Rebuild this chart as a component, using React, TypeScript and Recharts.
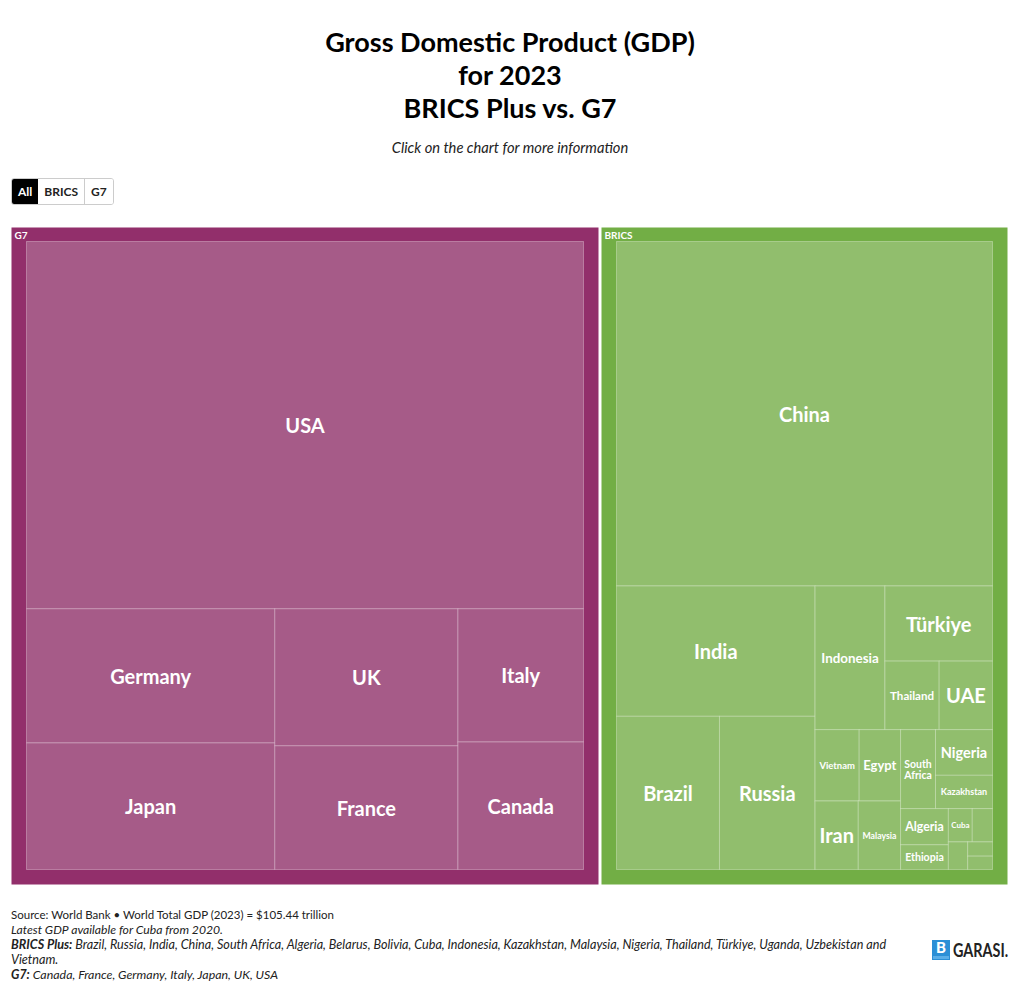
import React from 'react';
import { Treemap } from 'recharts';

const FONT = 'Lato, "Noto Sans", sans-serif';

const groupNames = ['G7', 'BRICS'];
const groupColors = ['#922f6b', '#72ae45'];
const leafColors = ['#a65b88', '#91be6d'];

const g7Countries = ['USA', 'Germany', 'Japan', 'UK', 'France', 'Italy', 'Canada'];
const g7Gdp = [27.36, 4.46, 4.21, 3.34, 3.03, 2.25, 2.14];

const bricsCountries = [
  'China', 'India', 'Brazil', 'Russia', 'Indonesia', 'Türkiye', 'Thailand', 'UAE',
  'Vietnam', 'Egypt', 'Iran', 'Malaysia', 'South Africa', 'Nigeria', 'Kazakhstan',
  'Algeria', 'Ethiopia', 'Cuba', 'Uzbekistan', 'Belarus', 'Uganda', 'Bolivia',
];
const bricsGdp = [
  17.79, 3.55, 2.17, 2.02, 1.37, 1.11, 0.51, 0.5,
  0.43, 0.4, 0.4, 0.4, 0.38, 0.36, 0.26,
  0.24, 0.16, 0.107, 0.09, 0.072, 0.049, 0.046,
];

type TNode = { name: string; value?: number; children?: TNode[] };

// split the list in two halves of about equal value, like a binary treemap
const nestBinary = (items: TNode[]): TNode => {
  if (items.length === 1) return items[0];
  const sums = [0];
  items.forEach((d) => sums.push(sums[sums.length - 1] + (d.value || 0)));
  const target = sums[items.length] / 2;
  let k = 1;
  let hi = items.length - 1;
  while (k < hi) {
    const mid = (k + hi) >>> 1;
    if (sums[mid] < target) k = mid + 1;
    else hi = mid;
  }
  if (target - sums[k - 1] < sums[k] - target && k > 1) k -= 1;
  return { name: '', children: [nestBinary(items.slice(0, k)), nestBinary(items.slice(k))] };
};

const makeGroup = (name: string, countries: string[], gdp: number[]): TNode => {
  const node = nestBinary(countries.map((c, i) => ({ name: c, value: gdp[i] })));
  return { ...node, name };
};

const treeData = [
  makeGroup('G7', g7Countries, g7Gdp),
  makeGroup('BRICS', bricsCountries, bricsGdp),
];

let ctx: CanvasRenderingContext2D | null = null;
const measure = (s: string) => {
  if (!ctx) ctx = document.createElement('canvas').getContext('2d');
  ctx!.font = `bold 100px ${FONT}`;
  return ctx!.measureText(s).width / 100;
};

const fitLabel = (name: string, w: number, h: number) => {
  const options = [[name]];
  if (name.includes(' ')) options.push(name.split(' '));
  let best = { lines: [name], size: 0 };
  options.forEach((lines) => {
    const widest = Math.max(...lines.map(measure));
    const size = Math.min(20, (w * 0.85 - 2) / widest, (h * 0.8) / (lines.length * 1.1));
    if (size > best.size) best = { lines, size };
  });
  return best;
};

const collectLeaves = (nodes: any[]): any[] =>
  nodes.flatMap((n) => (n.children && n.children.length ? collectLeaves(n.children) : [n]));

const GroupContent = (props: any) => {
  const { depth, x, y, width, height, name, children } = props;
  if (depth !== 1) return <g />;
  const gi = groupNames.indexOf(name);
  const gx = x + 1.5;
  const gy = y + 1.5;
  const gw = width - 3;
  const gh = height - 3;
  const ix = gx + 15;
  const iy = gy + 14;
  const iw = gw - 30;
  const ih = gh - 29;
  const sx = iw / width;
  const sy = ih / height;
  const leaves = collectLeaves(children || []);
  return (
    <g>
      <rect x={gx} y={gy} width={gw} height={gh} fill={groupColors[gi]} />
      <text x={gx + 3} y={gy + 7} dominantBaseline="central" fill="#fff" fontSize={10} fontWeight={700} fontFamily={FONT}>
        {name}
      </text>
      {leaves.map((leaf) => {
        const lx = ix + (leaf.x - x) * sx;
        const ly = iy + (leaf.y - y) * sy;
        const lw = leaf.width * sx;
        const lh = leaf.height * sy;
        const label = fitLabel(leaf.name, lw, lh);
        const lineH = label.size * 1.05;
        return (
          <g key={leaf.name}>
            <rect x={lx} y={ly} width={lw} height={lh} fill={leafColors[gi]} stroke="rgba(255,255,255,0.3)" strokeWidth={1} />
            {label.size >= 6.5 &&
              label.lines.map((line, i) => (
                <text
                  key={line}
                  x={lx + lw / 2}
                  y={ly + lh / 2 + (i - (label.lines.length - 1) / 2) * lineH}
                  textAnchor="middle"
                  dominantBaseline="central"
                  fill="#fff"
                  fontSize={label.size}
                  fontWeight={700}
                  fontFamily={FONT}
                >
                  {line}
                </text>
              ))}
          </g>
        );
      })}
    </g>
  );
};

const btn = (active: boolean): React.CSSProperties => ({
  padding: '0 6px',
  height: 25,
  lineHeight: '25px',
  background: active ? '#000' : '#fff',
  color: active ? '#fff' : '#222',
  borderRight: active ? 'none' : '1px solid #ccc',
  fontSize: 12,
  fontWeight: 700,
});

const App = () => {
  return (
    <div style={{ position: 'relative', width: 1020, height: 1008, fontFamily: FONT, color: '#000', background: '#fff' }}>
      <style>{'body{margin:0}'}</style>
      <div style={{ position: 'absolute', top: 25, left: 0, width: 1020, textAlign: 'center', fontSize: 27, fontWeight: 700, lineHeight: '33px' }}>
        Gross Domestic Product (GDP)
        <br />
        for 2023
        <br />
        BRICS Plus vs. G7
      </div>
      <div style={{ position: 'absolute', top: 138, left: 0, width: 1020, textAlign: 'center', fontSize: 14.7, fontStyle: 'italic', lineHeight: '18px', color: '#222' }}>
        Click on the chart for more information
      </div>
      <div style={{ position: 'absolute', top: 178, left: 11, display: 'flex', border: '1px solid #ccc', borderRadius: 3, overflow: 'hidden' }}>
        <div style={btn(true)}>All</div>
        <div style={btn(false)}>BRICS</div>
        <div style={{ ...btn(false), borderRight: 'none' }}>G7</div>
      </div>
      <div style={{ position: 'absolute', top: 225.5, left: 9.5 }}>
        <Treemap
          width={999}
          height={660}
          data={treeData}
          dataKey="value"
          aspectRatio={1}
          isAnimationActive={false}
          content={GroupContent}
        />
      </div>
      <div style={{ position: 'absolute', top: 907, left: 11, width: 910, fontSize: 11.5, lineHeight: '15px', color: '#222', whiteSpace: 'nowrap' }}>
        <div>Source: World Bank • World Total GDP (2023) = $105.44 trillion</div>
        <div style={{ fontStyle: 'italic', fontSize: 12.2 }}>Latest GDP available for Cuba from 2020.</div>
        <div style={{ fontStyle: 'italic', fontSize: 12.6 }}>
          <b>BRICS Plus:</b> Brazil, Russia, India, China, South Africa, Algeria, Belarus, Bolivia, Cuba, Indonesia,
          Kazakhstan, Malaysia, Nigeria, Thailand, Türkiye, Uganda, Uzbekistan and
          <br />
          Vietnam.
        </div>
        <div style={{ fontStyle: 'italic', fontSize: 12.4 }}>
          <b>G7:</b> Canada, France, Germany, Italy, Japan, UK, USA
        </div>
      </div>
      <svg style={{ position: 'absolute', top: 938, left: 930 }} width={88} height={26}>
        <rect x={2} y={2} width={18} height={20} fill="#2b8fd6" />
        <text x={11} y={15} textAnchor="middle" fill="#fff" fontSize={15} fontWeight={900} fontFamily={FONT}>B</text>
        <rect x={3} y={18} width={16} height={3} fill="#5aaee8" />
        <text transform="translate(23,19) scale(0.8,1)" fill="#222" fontSize={18} fontWeight={700} fontFamily={FONT}>
          GARASI.
        </text>
      </svg>
    </div>
  );
};

export default App;
